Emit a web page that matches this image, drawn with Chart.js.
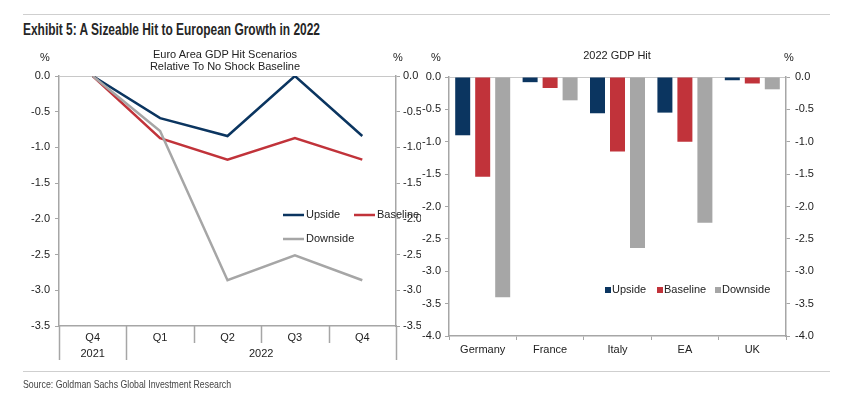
<!DOCTYPE html>
<html>
<head>
<meta charset="utf-8">
<script src="https://cdn.jsdelivr.net/npm/chart.js@4.4.1/dist/chart.umd.min.js"></script>
<style>
  body { margin: 0; background: #fff; }
  #page { position: relative; width: 850px; height: 399px; overflow: hidden; font-family: "Liberation Sans", Arial, sans-serif; color: #222; }
  canvas { position: absolute; left: 0; top: 0; }
  .txt { position: absolute; white-space: nowrap; font-size: 11px; line-height: 12px; }
  .rule { position: absolute; left: 23px; width: 807px; height: 1px; background: #cfcfcf; }
  .squeeze { transform-origin: 0 0; }
</style>
</head>
<body>
<div id="page">
  <div class="rule" style="top:14px"></div>
  <div class="txt squeeze" data-width="297" style="left:23px;top:21px;font-size:16px;line-height:18px;font-weight:bold;color:#262626">Exhibit 5: A Sizeable Hit to European Growth in 2022</div>
  <canvas id="lineChart" width="850" height="399"></canvas>
  <canvas id="barChart" width="850" height="399"></canvas>
  <div class="txt" style="left:127px;top:48px;width:196px;text-align:center">Euro Area GDP Hit Scenarios<br>Relative To No Shock Baseline</div>
  <div class="txt" style="left:40px;top:51px">%</div>
  <div class="txt" style="left:393px;top:51px">%</div>
  <div class="txt" style="left:431px;top:51px">%</div>
  <div class="txt" style="left:784px;top:51px">%</div>
  <div class="txt" style="left:517px;top:49px;width:200px;text-align:center">2022 GDP Hit</div>
  <div class="rule" style="top:371px"></div>
  <div class="txt squeeze" data-width="208" style="left:23px;top:378px;font-size:11px;color:#444">Source: Goldman Sachs Global Investment Research</div>
</div>
<script>
// left panel: quarterly path
const quarters = ['Q4', 'Q1', 'Q2', 'Q3', 'Q4'];
const years = ['2021', '2022'];
const yearSpan = [1, 4];
const upsidePath = [0, -0.59, -0.84, 0, -0.84];
const baselinePath = [0, -0.87, -1.17, -0.87, -1.17];
const downsidePath = [0, -0.77, -2.86, -2.51, -2.86];

// right panel: 2022 hit by country
const countries = ['Germany', 'France', 'Italy', 'EA', 'UK'];
const upsideHit = [-0.9, -0.08, -0.56, -0.55, -0.05];
const baselineHit = [-1.54, -0.17, -1.15, -1.0, -0.1];
const downsideHit = [-3.4, -0.36, -2.64, -2.25, -0.19];

const scenarios = ['Upside', 'Baseline', 'Downside'];
const colours = ['#0b3560', '#c1333a', '#a6a6a6'];

const FONT = { family: '"Liberation Sans", Arial, sans-serif', size: 11 };
const AXIS = '#a6a6a6';
const TEXT = '#222';

// no narrow font installed, so squeeze the title and source line
document.querySelectorAll('.squeeze').forEach(el => {
    const k = Number(el.dataset.width) / el.offsetWidth;
    el.style.transform = 'scaleX(' + k + ')';
});

function yAxis(pos, min, width, pad, showZero) {
    return {
        position: pos,
        min: min,
        max: 0,
        ticks: { stepSize: 0.5, color: TEXT, font: FONT, padding: pad, callback: v => v.toFixed(1) },
        grid: {
            drawOnChartArea: showZero,
            color: ctx => (ctx.tick && ctx.tick.value === 0) ? '#c8c8c8' : 'rgba(0,0,0,0)',
            tickColor: AXIS,
            tickLength: 4
        },
        border: { display: true, color: AXIS, width: 1.5 },
        afterFit: s => { s.width = width; }
    };
}

// separators + year row under the quarters
const quarterFrame = {
    id: 'quarterFrame',
    afterDraw(chart) {
        const ctx = chart.ctx;
        const xs = chart.scales.x;
        const area = chart.chartArea;
        const w = xs.getPixelForValue(1) - xs.getPixelForValue(0);
        const x0 = xs.getPixelForValue(0) - w / 2;
        const breaks = [0];
        yearSpan.forEach(s => breaks.push(breaks[breaks.length - 1] + s));
        ctx.save();
        ctx.strokeStyle = AXIS;
        ctx.lineWidth = 1.5;
        for (let i = 0; i <= quarters.length; i++) {
            const x = Math.round(x0 + i * w) + 0.5;
            ctx.beginPath();
            ctx.moveTo(x, area.bottom);
            ctx.lineTo(x, area.bottom + (breaks.includes(i) ? 34 : 17));
            ctx.stroke();
        }
        ctx.fillStyle = TEXT;
        ctx.font = FONT.size + 'px ' + FONT.family;
        ctx.textAlign = 'center';
        ctx.textBaseline = 'middle';
        years.forEach((y, j) => {
            ctx.fillText(y, x0 + (breaks[j] + yearSpan[j] / 2) * w, area.bottom + 28);
        });

        // legend, two columns
        const lx = area.left + 224, ly = area.top + 139;
        const spots = [[lx, ly], [lx + 71, ly], [lx, ly + 24]];
        ctx.textAlign = 'left';
        ctx.lineWidth = 2.5;
        scenarios.forEach((name, k) => {
            const [sx, sy] = spots[k];
            ctx.strokeStyle = colours[k];
            ctx.beginPath();
            ctx.moveTo(sx, sy);
            ctx.lineTo(sx + 21, sy);
            ctx.stroke();
            ctx.fillText(name, sx + 23, sy);
        });
        ctx.restore();
    }
};

new Chart(document.getElementById('lineChart'), {
    type: 'line',
    data: {
        labels: quarters,
        datasets: [upsidePath, baselinePath, downsidePath].map((d, k) => ({
            label: scenarios[k],
            data: d,
            borderColor: colours[k],
            borderWidth: 2.5,
            pointRadius: 0,
            tension: 0,
            order: 3 - k
        }))
    },
    options: {
        responsive: false,
        animation: false,
        layout: { padding: { left: 20, right: 429, top: 76, bottom: 39 } },
        plugins: { legend: { display: false }, tooltip: { enabled: false } },
        scales: {
            x: {
                offset: true,
                ticks: { color: TEXT, font: FONT, padding: 5 },
                grid: { display: false, drawTicks: false },
                border: { display: true, color: AXIS, width: 1.5 },
                afterFit: s => { s.height = 34; }
            },
            y: yAxis('left', -3.5, 39, 5, true),
            y2: yAxis('right', -3.5, 25, 3, false)
        }
    },
    plugins: [quarterFrame]
});

const barLegend = {
    id: 'barLegend',
    afterDraw(chart) {
        const ctx = chart.ctx;
        const area = chart.chartArea;
        const xs = [area.left + 156, area.left + 208, area.left + 266];
        const y = area.top + 213;
        ctx.save();
        ctx.font = FONT.size + 'px ' + FONT.family;
        ctx.textBaseline = 'middle';
        scenarios.forEach((name, k) => {
            ctx.fillStyle = colours[k];
            ctx.fillRect(xs[k], y - 3, 6, 6);
            ctx.fillStyle = TEXT;
            ctx.fillText(name, xs[k] + 7, y);
        });
        ctx.restore();
    }
};

new Chart(document.getElementById('barChart'), {
    type: 'bar',
    data: {
        labels: countries,
        datasets: [upsideHit, baselineHit, downsideHit].map((d, k) => ({
            label: scenarios[k],
            data: d,
            backgroundColor: colours[k],
            borderWidth: 0,
            categoryPercentage: 0.89,
            barPercentage: 0.75
        }))
    },
    options: {
        responsive: false,
        animation: false,
        layout: { padding: { left: 405, right: 30, top: 77, bottom: 43 } },
        plugins: { legend: { display: false }, tooltip: { enabled: false } },
        scales: {
            x: {
                ticks: { color: TEXT, font: FONT, padding: 3 },
                grid: { offset: true, drawOnChartArea: false, color: AXIS, tickLength: 4 },
                border: { display: true, color: AXIS, width: 1.5 },
                afterFit: s => { s.height = 20; }
            },
            y: yAxis('left', -4, 44, 4, true),
            y2: yAxis('right', -4, 34, 5, false)
        }
    },
    plugins: [barLegend]
});
</script>
</body>
</html>
